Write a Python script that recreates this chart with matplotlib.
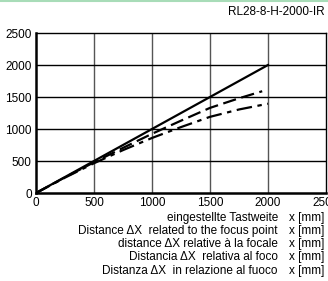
import matplotlib
matplotlib.use('Agg')
import matplotlib.pyplot as plt
from matplotlib.lines import Line2D

plt.rcParams['font.family'] = ['Liberation Sans', 'DejaVu Sans']

x_solid = [0, 2000]
y_solid = [0, 2000]

x_dash = [0, 250, 500, 750, 1000, 1250, 1500, 1750, 1950]
y_dash = [0, 245, 480, 705, 925, 1130, 1330, 1480, 1590]

x_dashdot = [0, 250, 500, 750, 1000, 1250, 1500, 1750, 2000]
y_dashdot = [0, 240, 465, 670, 860, 1030, 1190, 1305, 1395]

ticks = [0, 500, 1000, 1500, 2000, 2500]
title = 'RL28-8-H-2000-IR'
captions = ['eingestellte Tastweite',
            'Distance \u0394X  related to the focus point',
            'distance \u0394X relative \u00e0 la focale',
            'Distancia \u0394X  relativa al foco',
            'Distanza \u0394X  in relazione al fuoco']
unit = 'x [mm]'

fig = plt.figure(figsize=(3.28, 2.81), dpi=100)
ax = fig.add_axes([36 / 328, 1 - 193 / 281, 290 / 328, 160 / 281])

ax.set_xlim(0, 2500)
ax.set_ylim(0, 2500)
ax.set_xticks(ticks)
ax.set_yticks(ticks)
ax.tick_params(length=0, labelsize=8.5, pad=3)
for t in ax.get_xticks():
    if 0 < t < 2500:
        ax.axvline(t, color='#555555', lw=1.0, zorder=1)
for t in ax.get_yticks():
    if 0 < t < 2500:
        ax.axhline(t, color='black', lw=1.0, zorder=1)
for side in ['left', 'bottom']:
    ax.spines[side].set_linewidth(1.8)
for side in ['top', 'right']:
    ax.spines[side].set_linewidth(1.0)

ax.plot(x_solid, y_solid, color='black', lw=1.6, zorder=3)
ax.plot(x_dash, y_dash, color='black', lw=1.6, dashes=(6, 2.5), zorder=3)
ax.plot(x_dashdot, y_dashdot, color='black', lw=1.6, dashes=(7, 2.5, 2, 2.5), zorder=3)

fig.text(228 / 328, 1 - 12 / 281, title, fontsize=8.5, ha='left', va='center')
fig.add_artist(Line2D([0, 1], [0.998, 0.998], color='#a8dcb8', lw=1.5))

for i, c in enumerate(captions):
    yy = 1 - (217.5 + i * 13.3) / 281
    fig.text(278 / 328, yy, c, fontsize=8.5, ha='right', va='center')
    fig.text(289 / 328, yy, unit, fontsize=8.5, ha='left', va='center')

fig.savefig('out.png', dpi=100)
